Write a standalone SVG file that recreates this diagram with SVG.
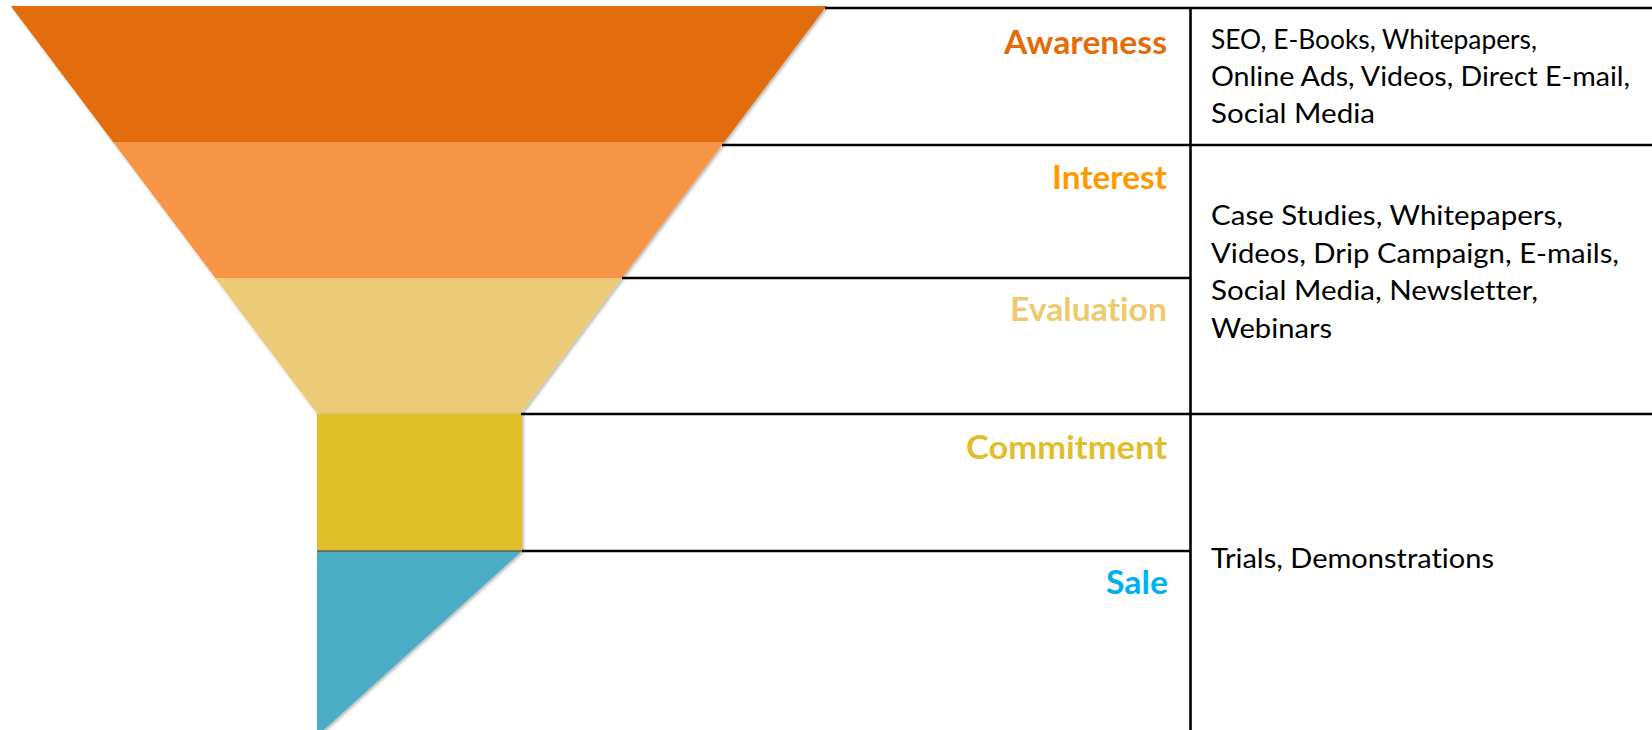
<svg xmlns="http://www.w3.org/2000/svg" width="1652" height="730" viewBox="0 0 1652 730">
  <defs>
    <filter id="soft" x="-5%" y="-5%" width="110%" height="115%">
      <feDropShadow dx="1.5" dy="1.5" stdDeviation="1.5" flood-color="#000" flood-opacity="0.3"/>
    </filter>
    <style>
      .rule { stroke: #000; stroke-width: 2.6; fill: none; }
      text { font-variant-ligatures: none; font-feature-settings: "liga" 0, "clig" 0; }
      .stage { font-family: Lato, "Open Sans", "Liberation Sans", sans-serif; font-weight: 700; font-size: 32px; text-anchor: end; }
      .desc { font-family: Lato, "Open Sans", "Liberation Sans", sans-serif; font-size: 27px; fill: #000; }
    </style>
  </defs>
  <rect width="1652" height="730" fill="#fff"/>

  <!-- funnel bands -->
  <g id="funnel-awareness">
    <polygon points="10.8,6 826.5,6 724.2,142 113.1,142" fill="#E36C0A" filter="url(#soft)"/>
  </g>
  <g id="funnel-interest">
    <polygon points="113.1,142 724.2,142 622,278 215.3,278" fill="#F79646" filter="url(#soft)"/>
  </g>
  <g id="funnel-evaluation">
    <polygon points="215.3,278 622,278 521,413.5 317,413.5" fill="#EBCB77" filter="url(#soft)"/>
  </g>
  <g id="funnel-commitment">
    <rect x="317" y="413.5" width="205" height="137.5" fill="#E0BF2B" filter="url(#soft)"/>
  </g>
  <g id="funnel-sale">
    <polygon points="317,551 522,551 317,736" fill="#4BACC6" filter="url(#soft)"/>
    <line x1="317" y1="551" x2="522" y2="551" stroke="#3a3a3a" stroke-width="1"/>
  </g>

  <!-- table rules -->
  <g id="connectors">
    <line class="rule" x1="825" y1="8" x2="1652" y2="8"/>
    <line class="rule" x1="722" y1="145" x2="1652" y2="145"/>
    <line class="rule" x1="622" y1="278" x2="1190.5" y2="278"/>
    <line class="rule" x1="521" y1="414" x2="1652" y2="414"/>
    <line class="rule" x1="522" y1="551" x2="1190.5" y2="551"/>
    <line class="rule" x1="1190.5" y1="7" x2="1190.5" y2="730"/>
  </g>

  <!-- stage labels -->
  <g id="label-awareness">
    <text class="stage" x="1167" y="54" fill="#E36C09" textLength="163" lengthAdjust="spacingAndGlyphs">Awareness</text>
  </g>
  <g id="label-interest">
    <text class="stage" x="1167" y="189" fill="#FF9900" textLength="115" lengthAdjust="spacingAndGlyphs">Interest</text>
  </g>
  <g id="label-evaluation">
    <text class="stage" x="1167" y="321" fill="#EDC970" textLength="157" lengthAdjust="spacingAndGlyphs">Evaluation</text>
  </g>
  <g id="label-commitment">
    <text class="stage" x="1167" y="459" fill="#E1BF2C" textLength="201" lengthAdjust="spacingAndGlyphs">Commitment</text>
  </g>
  <g id="label-sale">
    <text class="stage" x="1168" y="594" fill="#00B0F0" textLength="62" lengthAdjust="spacingAndGlyphs">Sale</text>
  </g>

  <!-- channel descriptions -->
  <g id="desc-awareness">
    <text class="desc" x="1211" y="48.5" textLength="326" lengthAdjust="spacingAndGlyphs">SEO, E-Books, Whitepapers,</text>
    <text class="desc" x="1211" y="86" textLength="419" lengthAdjust="spacingAndGlyphs">Online Ads, Videos, Direct E-mail,</text>
    <text class="desc" x="1211" y="123.3" textLength="164" lengthAdjust="spacingAndGlyphs">Social Media</text>
  </g>
  <g id="desc-interest-evaluation">
    <text class="desc" x="1211" y="225" textLength="352" lengthAdjust="spacingAndGlyphs">Case Studies, Whitepapers,</text>
    <text class="desc" x="1211" y="262.5" textLength="408" lengthAdjust="spacingAndGlyphs">Videos, Drip Campaign, E-mails,</text>
    <text class="desc" x="1211" y="300" textLength="327" lengthAdjust="spacingAndGlyphs">Social Media, Newsletter,</text>
    <text class="desc" x="1211" y="337.5" textLength="121" lengthAdjust="spacingAndGlyphs">Webinars</text>
  </g>
  <g id="desc-commitment-sale">
    <text class="desc" x="1211" y="568" textLength="283" lengthAdjust="spacingAndGlyphs">Trials, Demonstrations</text>
  </g>
</svg>
